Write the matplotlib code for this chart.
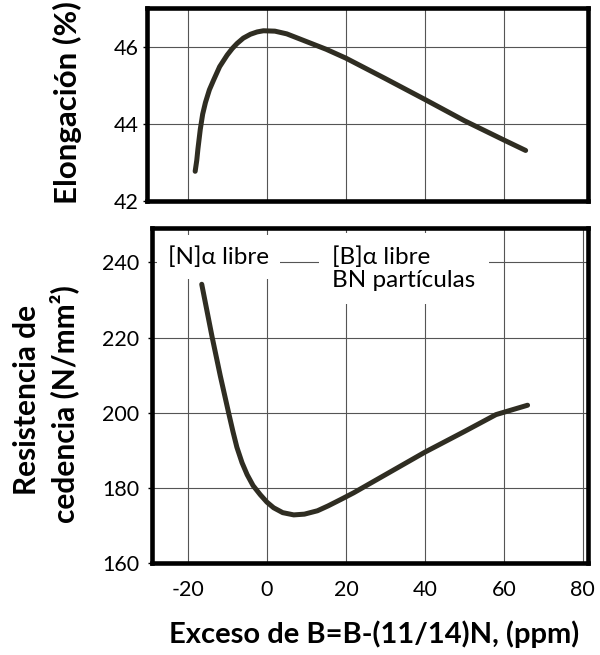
import matplotlib
matplotlib.use("Agg")
import matplotlib.pyplot as plt

# elongation curve (top panel)
elong_x = [-18.2, -17.8, -17.5, -16.9, -16.3, -15.6, -14.6, -13.5, -12.0, -10.1,
           -8.8, -7.6, -6.0, -4.2, -2.5, -0.9, 2, 5, 10, 15, 20, 30, 40, 50,
           60, 65.5]
elong_y = [42.77, 43.05, 43.35, 43.86, 44.25, 44.55, 44.88, 45.14, 45.48, 45.78,
           45.95, 46.08, 46.22, 46.32, 46.38, 46.41, 46.40, 46.33, 46.13, 45.93,
           45.70, 45.17, 44.63, 44.08, 43.58, 43.31]

# yield strength curve (bottom panel)
yield_x = [-16.5, -13.9, -11.8, -9.7, -8.6, -7.6, -6.3, -5.0, -3.5, -1.7, 0,
           1.7, 4, 6.8, 9.5, 12.8, 15.5, 18.7, 22, 25, 30, 40, 50, 58, 66]
yield_y = [234.2, 220.3, 209.8, 200, 195, 190.8, 186.7, 183.5, 180.6, 178.2,
           176.2, 174.7, 173.4, 172.8, 173.0, 173.9, 175.2, 176.9, 178.7, 180.5,
           183.5, 189.5, 195, 199.5, 202]

x_ticks = [-20, 0, 20, 40, 60, 80]
elong_ticks = [42, 44, 46]
yield_ticks = [160, 180, 200, 220, 240]

plt.rcParams['font.family'] = ['Lato', 'DejaVu Sans']
plt.rcParams['axes.unicode_minus'] = False

curve_color = "#2f2d22"
grid_color = "#555555"


def style_axes(ax):
    for s in ax.spines.values():
        s.set_linewidth(3.3)
        s.set_color("black")
    ax.grid(True, color=grid_color, linewidth=0.8)
    ax.set_axisbelow(True)


fig = plt.figure(figsize=(6, 6.55), dpi=100)

ax1 = fig.add_axes([0.245, 0.6931, 0.735, 0.2947])
ax1.plot(elong_x, elong_y, color=curve_color, linewidth=3.6,
         solid_capstyle="round", solid_joinstyle="round", zorder=3)
ax1.set_xlim(-30.4, 81.3)
ax1.set_ylim(42, 47)
ax1.set_xticks([-20, 0, 20, 40, 60])
ax1.set_yticks(elong_ticks)
ax1.tick_params(axis="x", length=0, labelbottom=False)
ax1.tick_params(axis="y", length=3, width=1, pad=3, labelsize=15.5)
style_axes(ax1)

ax2 = fig.add_axes([0.2533, 0.1405, 0.7267, 0.5115])
ax2.plot(yield_x, yield_y, color=curve_color, linewidth=3.6,
         solid_capstyle="round", solid_joinstyle="round", zorder=3)
ax2.set_xlim(-29.1, 81.3)
ax2.set_ylim(160, 249.2)
ax2.set_xticks(x_ticks)
ax2.set_yticks(yield_ticks)
ax2.tick_params(axis="x", length=0, pad=12, labelsize=15.5)
ax2.tick_params(axis="y", length=3, width=1, pad=6, labelsize=15.5)
style_axes(ax2)

ax2.text(-12.2, 241.4, "[N]α libre", fontsize=17.5, ha="center", va="center",
         zorder=2.5,
         bbox=dict(boxstyle="square,pad=0.45", facecolor="white", edgecolor="none"))
ax2.text(16.5, 238.4, "[B]α libre\nBN partículas", fontsize=17.5, ha="left",
         va="center", linespacing=1.15, zorder=2.5,
         bbox=dict(boxstyle="square,pad=0.55", facecolor="white", edgecolor="none"))

fig.text(0.112, 0.843, "Elongación (%)", rotation=90, ha="center", va="center",
         fontsize=22.5, fontweight="bold")
fig.text(0.045, 0.389, "Resistencia de", rotation=90, ha="center", va="center",
         fontsize=21.5, fontweight="bold")
fig.text(0.107, 0.383, "cedencia (N/mm²)", rotation=90, ha="center", va="center",
         fontsize=21.5, fontweight="bold")
fig.text(0.623, 0.031, "Exceso de B=B-(11/14)N, (ppm)", ha="center", va="center",
         fontsize=21, fontweight="bold")

fig.savefig("out.png", dpi=100)
